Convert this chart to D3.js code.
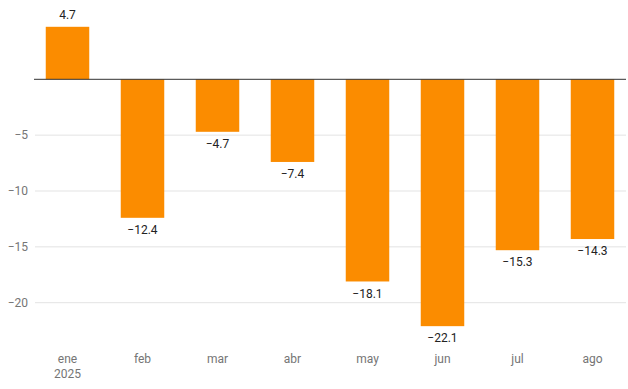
<!DOCTYPE html>
<html>
<head>
<meta charset="utf-8">
<script src="https://cdn.jsdelivr.net/npm/d3@7"></script>
<style>
  body { margin: 0; background: #fff; }
  svg { display: block; font-family: Roboto, "Noto Sans", sans-serif; }
</style>
</head>
<body>
<script>
/*data*/
const months = ['ene', 'feb', 'mar', 'abr', 'may', 'jun', 'jul', 'ago'];
const values = [4.7, -12.4, -4.7, -7.4, -18.1, -22.1, -15.3, -14.3];
const yTicks = [-20, -15, -10, -5];
const yearLabel = '2025';

/*canvas*/
const width = 628;
const height = 389;

const svg = d3.select('body').append('svg')
      .attr('width', width).attr('height', height);

/*scales*/
const xScale = d3.scaleBand()
      .domain(months).range([30, 630])
      .paddingInner(0.42).paddingOuter(0.21);

const yScale = d3.scaleLinear()
      .domain([-20, 0]).range([302.7, 79.3]);

const fmt = d => d3.format('.1f')(d).replace('-', '\u2212');

/*grid lines*/
svg.append('g').selectAll('line').data(yTicks).enter().append('line')
   .attr('x1', 35).attr('x2', 626)
   .attr('y1', d => yScale(d)).attr('y2', d => yScale(d))
   .attr('stroke', '#e3e3e3').attr('stroke-width', 1);

/*y tick labels*/
svg.append('g').selectAll('text').data(yTicks).enter().append('text')
   .attr('x', 28).attr('y', d => yScale(d))
   .attr('dy', '0.35em').attr('text-anchor', 'end')
   .attr('font-size', 12).attr('fill', '#757575')
   .text(d => String(d).replace('-', '\u2212'));

/*bars*/
svg.append('g').selectAll('rect').data(values).enter().append('rect')
   .attr('x', (d, i) => xScale(months[i]))
   .attr('width', xScale.bandwidth())
   .attr('y', d => yScale(Math.max(0, d)))
   .attr('height', d => Math.abs(yScale(d) - yScale(0)))
   .attr('fill', '#fb8c00');

/*zero line*/
svg.append('line')
   .attr('x1', 34).attr('x2', 626)
   .attr('y1', yScale(0)).attr('y2', yScale(0))
   .attr('stroke', '#333').attr('stroke-width', 1);

/*value labels*/
svg.append('g').selectAll('text').data(values).enter().append('text')
   .attr('x', (d, i) => xScale(months[i]) + xScale.bandwidth() / 2)
   .attr('y', d => d >= 0 ? yScale(d) - 12 : yScale(d) + 12)
   .attr('dy', '0.35em').attr('text-anchor', 'middle')
   .attr('font-size', 12).attr('fill', '#222')
   .text(d => fmt(d));

/*x labels*/
const xLabels = svg.append('g').selectAll('text').data(months).enter().append('text')
   .attr('x', d => xScale(d) + xScale.bandwidth() / 2)
   .attr('y', 363)
   .attr('text-anchor', 'middle')
   .attr('font-size', 12).attr('fill', '#757575')
   .text(d => d);

svg.append('text')
   .attr('x', xScale(months[0]) + xScale.bandwidth() / 2).attr('y', 378)
   .attr('text-anchor', 'middle')
   .attr('font-size', 12).attr('fill', '#757575')
   .text(yearLabel);
</script>
</body>
</html>
